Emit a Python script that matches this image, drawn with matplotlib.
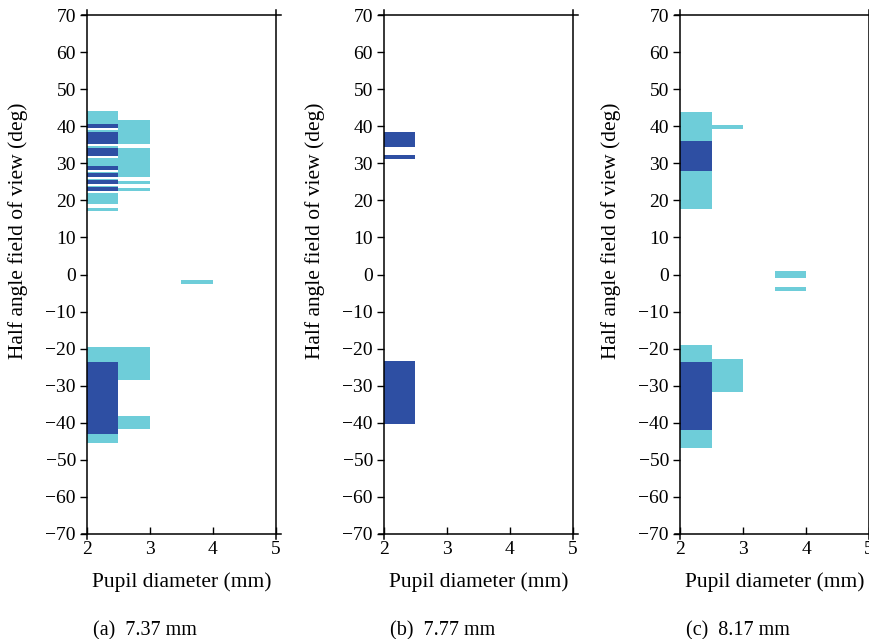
import matplotlib
matplotlib.use("Agg")
import matplotlib.pyplot as plt

plt.rcParams['font.family'] = ['Liberation Serif', 'DejaVu Serif']

# Pupil-diameter columns (mm): column i spans pupil_edges[i] .. pupil_edges[i+1]
pupil_edges = [2.0, 2.5, 3.0, 3.5, 4.0]

light_color = '#6ecdd9'
dark_color = '#2e4fa3'

# ---- Panel (a) 7.37 mm ----
a_light_col = [0, 0, 0, 0, 0, 0, 0, 0, 0, 1, 1, 1, 1, 0, 1, 1, 3]
a_light_lo = [17.1, 18.9, 23.5, 25.5, 27.3, 29.3, 34.2, 38.4, 40.6, 35.2, 26.2, 24.4, 22.5, -45.5, -28.5, -41.8, -2.5]
a_light_hi = [18.0, 21.9, 23.9, 25.8, 27.7, 31.5, 34.6, 38.9, 44.0, 41.7, 34.2, 25.3, 23.4, -19.6, -19.6, -38.2, -1.5]
a_dark_col = [0, 0, 0, 0, 0, 0, 0, 0]
a_dark_lo = [22.4, 24.4, 26.2, 28.2, 32.0, 35.1, 39.4, -43.0]
a_dark_hi = [23.5, 25.5, 27.3, 29.3, 34.2, 38.4, 40.6, -23.6]

# ---- Panel (b) 7.77 mm ----
b_light_col = []
b_light_lo = []
b_light_hi = []
b_dark_col = [0, 0, 0]
b_dark_lo = [34.3, 31.2, -40.4]
b_dark_hi = [38.4, 32.2, -23.4]

# ---- Panel (c) 8.17 mm ----
c_light_col = [0, 1, 0, 1, 3, 3]
c_light_lo = [17.7, 39.2, -46.9, -31.7, -0.9, -4.4]
c_light_hi = [43.8, 40.3, -18.9, -22.7, 0.9, -3.5]
c_dark_col = [0, 0]
c_dark_lo = [28.0, -41.9]
c_dark_hi = [36.0, -23.7]

captions = ['(a)  7.37 mm', '(b)  7.77 mm', '(c)  8.17 mm']
x_ticks = [2, 3, 4, 5]
y_ticks = list(range(-70, 71, 10))

panels = [
    (a_light_col, a_light_lo, a_light_hi, a_dark_col, a_dark_lo, a_dark_hi),
    (b_light_col, b_light_lo, b_light_hi, b_dark_col, b_dark_lo, b_dark_hi),
    (c_light_col, c_light_lo, c_light_hi, c_dark_col, c_dark_lo, c_dark_hi),
]

fig = plt.figure(figsize=(8.7, 6.39), dpi=100)
lefts = [87, 384, 680]
W, H = 870, 639

def draw(ax, cols, lo, hi, color):
    if not cols:
        return
    x0 = [pupil_edges[c] for c in cols]
    w = [pupil_edges[c + 1] - pupil_edges[c] for c in cols]
    h = [b - a for a, b in zip(lo, hi)]
    ax.bar(x0, h, width=w, bottom=lo, align='edge', color=color, linewidth=0)

for i, (lc, ll, lh, dc, dl, dh) in enumerate(panels):
    ax = fig.add_axes([lefts[i] / W, (H - 534) / H, 189 / W, 519 / H])
    draw(ax, lc, ll, lh, light_color)
    draw(ax, dc, dl, dh, dark_color)
    ax.set_xlim(2, 5)
    ax.set_ylim(-70, 70)
    ax.set_xticks(x_ticks)
    ax.set_yticks(y_ticks)
    ax.set_yticklabels([f'{v}'.replace('-', '\u2212') for v in y_ticks])
    ax.tick_params(axis='x', direction='in', length=5, width=1, labelsize=14, pad=5)
    ax.tick_params(axis='y', direction='out', length=5, width=1, labelsize=14, pad=3)
    for s in ax.spines.values():
        s.set_linewidth(1.1)
    ax.spines['left'].set_bounds(-71.3, 71.3)
    ax.spines['right'].set_bounds(-71.3, 71.3)
    ax.spines['top'].set_bounds(1.92, 5.08)
    ax.spines['bottom'].set_bounds(1.92, 5.08)
    ax.set_xlabel('Pupil diameter (mm)', fontsize=15.5, labelpad=10)
    ax.set_ylabel('Half angle field of view (deg)', fontsize=15.5)
    ax.yaxis.set_label_coords(-0.31, 0.585)
    ax.text(0.03, -0.186, captions[i], transform=ax.transAxes, fontsize=14.5,
            ha='left', va='center')

fig.savefig('out.png', dpi=100)
